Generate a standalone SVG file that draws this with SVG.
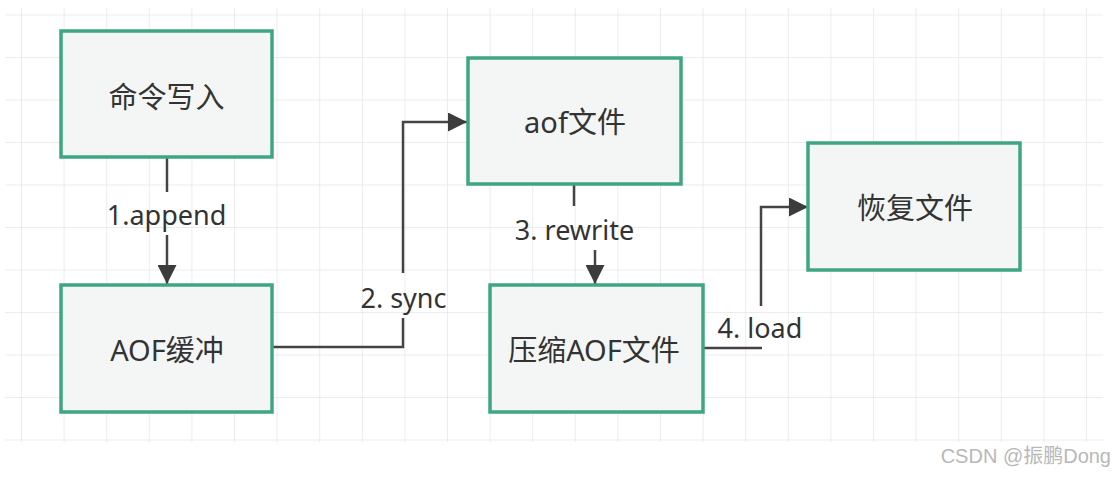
<svg xmlns="http://www.w3.org/2000/svg" width="1115" height="479" viewBox="0 0 1115 479">
  <style>
    .node rect { fill: #f3f6f4; stroke: #3ea680; stroke-width: 3.5; }
    .node text { font-family: "Noto Sans", "Noto Sans CJK SC", sans-serif; font-size: 29px; fill: #333333; text-anchor: middle; }
    .conn path { fill: none; stroke: #444444; stroke-width: 2.5; }
    .lbl { font-family: "Noto Sans", "Noto Sans CJK SC", sans-serif; font-size: 27px; fill: #333333; text-anchor: middle; }
    .wm { font-family: "Liberation Sans", "Noto Sans CJK SC", sans-serif; font-size: 20px; fill: #b8b8b8; text-anchor: end; }
  </style>
  <defs>
    <pattern id="grid" patternUnits="userSpaceOnUse" x="21" y="14.5" width="42.6" height="42.5">
      <path d="M0 0 H42.6 M0 0 V42.5" fill="none" stroke="#e6e6e6" stroke-width="1.5"/>
    </pattern>
    <marker id="arrow" viewBox="0 0 20 20" refX="20" refY="10" markerWidth="20" markerHeight="19" markerUnits="userSpaceOnUse" orient="auto">
      <path d="M0 0 L20 10 L0 20 z" fill="#3c3c3c"/>
    </marker>
  </defs>
  <rect width="1115" height="479" fill="#ffffff"/>
  <rect x="5" y="8" width="1098" height="434" fill="url(#grid)"/>

  <g id="connectors" class="conn">
    <path d="M167 157 V192"/>
    <path d="M167 235 V284" marker-end="url(#arrow)"/>
    <path d="M273 347 H403 V318"/>
    <path d="M403 273 V122 H467" marker-end="url(#arrow)"/>
    <path d="M574 184 V206"/>
    <path d="M595 250 V284" marker-end="url(#arrow)"/>
    <path d="M704 348 H762"/>
    <path d="M761 306 V207 H808" marker-end="url(#arrow)"/>
    <text class="lbl" x="166.5" y="225">1.append</text>
    <text class="lbl" x="403.5" y="308">2. sync</text>
    <text class="lbl" x="574.5" y="240">3. rewrite</text>
    <text class="lbl" x="760" y="338">4. load</text>
  </g>

  <g id="node-cmd" class="node">
    <rect x="61" y="31" width="211" height="126"/>
    <text x="166.5" y="107.5">命令写入</text>
  </g>
  <g id="node-buffer" class="node">
    <rect x="61" y="285" width="211" height="127"/>
    <text x="167" y="361">AOF缓冲</text>
  </g>
  <g id="node-aof" class="node">
    <rect x="468" y="58" width="213" height="126"/>
    <text x="575" y="133">aof文件</text>
  </g>
  <g id="node-rewrite" class="node">
    <rect x="490" y="285" width="213" height="127"/>
    <text x="594" y="361">压缩AOF文件</text>
  </g>
  <g id="node-restore" class="node">
    <rect x="808" y="143" width="212" height="127"/>
    <text x="915" y="219">恢复文件</text>
  </g>

  <text class="wm" x="1111" y="463">CSDN @振鹏Dong</text>
</svg>
